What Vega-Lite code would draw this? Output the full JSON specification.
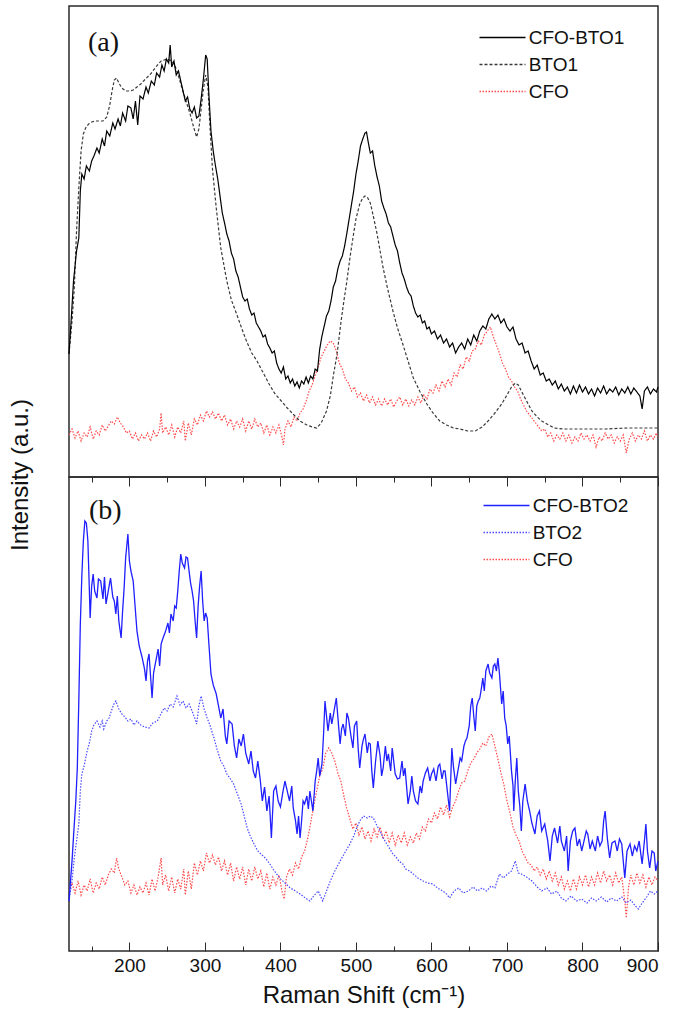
{
"$schema": "https://vega.github.io/schema/vega-lite/v6.json",
"padding": {"left": 8, "top": 5, "right": 2, "bottom": 2},
"spacing": 0,
"bounds": "flush",
"title": {"text": "Intensity (a.u.)", "orient": "left", "anchor": "middle", "frame": "group", "offset": 33, "dx": -469, "font": "Liberation Sans", "fontSize": 24, "fontWeight": "normal", "color": "#111"},
"config": {
 "font": "Liberation Sans",
 "view": {"stroke": "#2a2a2a", "strokeWidth": 1.5},
 "axis": {"grid": false, "domain": false, "tickColor": "#2a2a2a", "tickWidth": 1, "labelColor": "#111", "titleColor": "#111", "labelFontSize": 19, "titleFontSize": 24, "titleFontWeight": "normal"},
 "legend": {"orient": "none", "title": null, "symbolType": "M-3,0H3", "symbolSize": 235, "symbolStrokeWidth": 1.3, "labelFontSize": 19, "labelColor": "#111", "rowPadding": 7, "padding": 0}
},
"resolve": {"scale": {"color": "independent", "strokeDash": "independent", "x": "shared"}, "legend": {"color": "independent", "strokeDash": "independent"}},
"datasets": {
"a": [
{"s":"CFO","x":120,"y":42},{"s":"CFO","x":124,"y":48},{"s":"CFO","x":128,"y":39},{"s":"CFO","x":132,"y":46},{"s":"CFO","x":136,"y":36},{"s":"CFO","x":140,"y":44},{"s":"CFO","x":144,"y":40},{"s":"CFO","x":148,"y":50},{"s":"CFO","x":152,"y":38},{"s":"CFO","x":156,"y":46},{"s":"CFO","x":160,"y":42},{"s":"CFO","x":164,"y":52},{"s":"CFO","x":168,"y":46},{"s":"CFO","x":172,"y":51},{"s":"CFO","x":176,"y":56},{"s":"CFO","x":180,"y":53},{"s":"CFO","x":184,"y":60},{"s":"CFO","x":188,"y":54},{"s":"CFO","x":192,"y":50},{"s":"CFO","x":196,"y":44},{"s":"CFO","x":200,"y":46},{"s":"CFO","x":204,"y":38},{"s":"CFO","x":208,"y":44},{"s":"CFO","x":212,"y":36},{"s":"CFO","x":216,"y":42},{"s":"CFO","x":220,"y":38},{"s":"CFO","x":224,"y":44},{"s":"CFO","x":228,"y":36},{"s":"CFO","x":232,"y":46},{"s":"CFO","x":236,"y":40},{"s":"CFO","x":240,"y":48},{"s":"CFO","x":242,"y":64},{"s":"CFO","x":244,"y":44},{"s":"CFO","x":248,"y":50},{"s":"CFO","x":252,"y":42},{"s":"CFO","x":256,"y":52},{"s":"CFO","x":260,"y":40},{"s":"CFO","x":264,"y":50},{"s":"CFO","x":268,"y":44},{"s":"CFO","x":272,"y":56},{"s":"CFO","x":274,"y":36},{"s":"CFO","x":278,"y":54},{"s":"CFO","x":282,"y":42},{"s":"CFO","x":286,"y":58},{"s":"CFO","x":290,"y":52},{"s":"CFO","x":294,"y":62},{"s":"CFO","x":298,"y":56},{"s":"CFO","x":302,"y":66},{"s":"CFO","x":306,"y":60},{"s":"CFO","x":310,"y":65},{"s":"CFO","x":314,"y":58},{"s":"CFO","x":318,"y":64},{"s":"CFO","x":322,"y":56},{"s":"CFO","x":326,"y":62},{"s":"CFO","x":330,"y":52},{"s":"CFO","x":334,"y":58},{"s":"CFO","x":338,"y":48},{"s":"CFO","x":342,"y":56},{"s":"CFO","x":346,"y":50},{"s":"CFO","x":350,"y":58},{"s":"CFO","x":354,"y":46},{"s":"CFO","x":358,"y":56},{"s":"CFO","x":362,"y":48},{"s":"CFO","x":366,"y":58},{"s":"CFO","x":370,"y":50},{"s":"CFO","x":374,"y":54},{"s":"CFO","x":378,"y":44},{"s":"CFO","x":382,"y":52},{"s":"CFO","x":386,"y":42},{"s":"CFO","x":390,"y":50},{"s":"CFO","x":394,"y":44},{"s":"CFO","x":398,"y":52},{"s":"CFO","x":402,"y":40},{"s":"CFO","x":404,"y":32},{"s":"CFO","x":406,"y":48},{"s":"CFO","x":410,"y":56},{"s":"CFO","x":414,"y":50},{"s":"CFO","x":418,"y":60},{"s":"CFO","x":422,"y":56},{"s":"CFO","x":426,"y":64},{"s":"CFO","x":430,"y":68},{"s":"CFO","x":434,"y":76},{"s":"CFO","x":438,"y":86},{"s":"CFO","x":442,"y":92},{"s":"CFO","x":446,"y":102},{"s":"CFO","x":450,"y":110},{"s":"CFO","x":454,"y":120},{"s":"CFO","x":458,"y":126},{"s":"CFO","x":462,"y":132},{"s":"CFO","x":466,"y":136},{"s":"CFO","x":470,"y":134},{"s":"CFO","x":474,"y":126},{"s":"CFO","x":478,"y":114},{"s":"CFO","x":482,"y":108},{"s":"CFO","x":486,"y":98},{"s":"CFO","x":490,"y":94},{"s":"CFO","x":494,"y":86},{"s":"CFO","x":498,"y":90},{"s":"CFO","x":502,"y":80},{"s":"CFO","x":506,"y":84},{"s":"CFO","x":510,"y":76},{"s":"CFO","x":514,"y":82},{"s":"CFO","x":518,"y":74},{"s":"CFO","x":522,"y":80},{"s":"CFO","x":526,"y":72},{"s":"CFO","x":530,"y":78},{"s":"CFO","x":534,"y":71},{"s":"CFO","x":538,"y":78},{"s":"CFO","x":542,"y":72},{"s":"CFO","x":546,"y":78},{"s":"CFO","x":550,"y":70},{"s":"CFO","x":554,"y":76},{"s":"CFO","x":558,"y":80},{"s":"CFO","x":562,"y":72},{"s":"CFO","x":566,"y":78},{"s":"CFO","x":570,"y":71},{"s":"CFO","x":574,"y":77},{"s":"CFO","x":578,"y":72},{"s":"CFO","x":582,"y":80},{"s":"CFO","x":586,"y":74},{"s":"CFO","x":590,"y":82},{"s":"CFO","x":594,"y":78},{"s":"CFO","x":598,"y":88},{"s":"CFO","x":602,"y":84},{"s":"CFO","x":606,"y":92},{"s":"CFO","x":610,"y":86},{"s":"CFO","x":614,"y":96},{"s":"CFO","x":618,"y":90},{"s":"CFO","x":622,"y":98},{"s":"CFO","x":626,"y":92},{"s":"CFO","x":630,"y":104},{"s":"CFO","x":634,"y":100},{"s":"CFO","x":638,"y":112},{"s":"CFO","x":642,"y":108},{"s":"CFO","x":646,"y":120},{"s":"CFO","x":650,"y":116},{"s":"CFO","x":654,"y":126},{"s":"CFO","x":658,"y":128},{"s":"CFO","x":662,"y":136},{"s":"CFO","x":666,"y":132},{"s":"CFO","x":670,"y":142},{"s":"CFO","x":674,"y":146},{"s":"CFO","x":678,"y":150},{"s":"CFO","x":682,"y":140},{"s":"CFO","x":686,"y":132},{"s":"CFO","x":690,"y":124},{"s":"CFO","x":694,"y":114},{"s":"CFO","x":698,"y":108},{"s":"CFO","x":702,"y":100},{"s":"CFO","x":706,"y":96},{"s":"CFO","x":710,"y":90},{"s":"CFO","x":714,"y":86},{"s":"CFO","x":718,"y":78},{"s":"CFO","x":722,"y":72},{"s":"CFO","x":726,"y":66},{"s":"CFO","x":730,"y":62},{"s":"CFO","x":734,"y":58},{"s":"CFO","x":738,"y":54},{"s":"CFO","x":742,"y":50},{"s":"CFO","x":746,"y":46},{"s":"CFO","x":750,"y":48},{"s":"CFO","x":754,"y":40},{"s":"CFO","x":758,"y":44},{"s":"CFO","x":762,"y":36},{"s":"CFO","x":766,"y":42},{"s":"CFO","x":770,"y":38},{"s":"CFO","x":774,"y":44},{"s":"CFO","x":778,"y":36},{"s":"CFO","x":782,"y":42},{"s":"CFO","x":786,"y":34},{"s":"CFO","x":790,"y":40},{"s":"CFO","x":794,"y":36},{"s":"CFO","x":798,"y":44},{"s":"CFO","x":802,"y":38},{"s":"CFO","x":806,"y":42},{"s":"CFO","x":810,"y":36},{"s":"CFO","x":814,"y":42},{"s":"CFO","x":818,"y":30},{"s":"CFO","x":822,"y":40},{"s":"CFO","x":826,"y":36},{"s":"CFO","x":830,"y":44},{"s":"CFO","x":834,"y":38},{"s":"CFO","x":838,"y":42},{"s":"CFO","x":842,"y":34},{"s":"CFO","x":846,"y":40},{"s":"CFO","x":850,"y":36},{"s":"CFO","x":854,"y":42},{"s":"CFO","x":858,"y":24},{"s":"CFO","x":862,"y":38},{"s":"CFO","x":866,"y":44},{"s":"CFO","x":870,"y":36},{"s":"CFO","x":874,"y":42},{"s":"CFO","x":878,"y":38},{"s":"CFO","x":882,"y":46},{"s":"CFO","x":886,"y":36},{"s":"CFO","x":890,"y":42},{"s":"CFO","x":894,"y":38},{"s":"CFO","x":898,"y":44},{"s":"CFO","x":900,"y":40},
{"s":"BTO1","x":120,"y":123},{"s":"BTO1","x":124,"y":156},{"s":"BTO1","x":127,"y":189},{"s":"BTO1","x":130,"y":246},{"s":"BTO1","x":133,"y":289},{"s":"BTO1","x":136,"y":326},{"s":"BTO1","x":139,"y":343},{"s":"BTO1","x":142,"y":349},{"s":"BTO1","x":146,"y":353},{"s":"BTO1","x":150,"y":355},{"s":"BTO1","x":155,"y":356},{"s":"BTO1","x":160,"y":356},{"s":"BTO1","x":165,"y":356},{"s":"BTO1","x":170,"y":360},{"s":"BTO1","x":174,"y":372},{"s":"BTO1","x":177,"y":386},{"s":"BTO1","x":180,"y":397},{"s":"BTO1","x":183,"y":399},{"s":"BTO1","x":186,"y":394},{"s":"BTO1","x":190,"y":389},{"s":"BTO1","x":195,"y":386},{"s":"BTO1","x":200,"y":386},{"s":"BTO1","x":205,"y":387},{"s":"BTO1","x":210,"y":390},{"s":"BTO1","x":215,"y":393},{"s":"BTO1","x":220,"y":397},{"s":"BTO1","x":228,"y":403},{"s":"BTO1","x":235,"y":410},{"s":"BTO1","x":242,"y":416},{"s":"BTO1","x":250,"y":418},{"s":"BTO1","x":256,"y":416},{"s":"BTO1","x":260,"y":412},{"s":"BTO1","x":265,"y":401},{"s":"BTO1","x":270,"y":388},{"s":"BTO1","x":275,"y":376},{"s":"BTO1","x":280,"y":364},{"s":"BTO1","x":285,"y":350},{"s":"BTO1","x":289,"y":340},{"s":"BTO1","x":292,"y":348},{"s":"BTO1","x":295,"y":368},{"s":"BTO1","x":298,"y":388},{"s":"BTO1","x":301,"y":402},{"s":"BTO1","x":304,"y":390},{"s":"BTO1","x":307,"y":346},{"s":"BTO1","x":310,"y":308},{"s":"BTO1","x":315,"y":269},{"s":"BTO1","x":321,"y":229},{"s":"BTO1","x":329,"y":196},{"s":"BTO1","x":335,"y":177},{"s":"BTO1","x":342,"y":163},{"s":"BTO1","x":350,"y":146},{"s":"BTO1","x":355,"y":136},{"s":"BTO1","x":362,"y":124},{"s":"BTO1","x":369,"y":116},{"s":"BTO1","x":378,"y":103},{"s":"BTO1","x":385,"y":93},{"s":"BTO1","x":392,"y":84},{"s":"BTO1","x":400,"y":77},{"s":"BTO1","x":409,"y":69},{"s":"BTO1","x":418,"y":62},{"s":"BTO1","x":426,"y":56},{"s":"BTO1","x":435,"y":52},{"s":"BTO1","x":442,"y":50},{"s":"BTO1","x":448,"y":49},{"s":"BTO1","x":454,"y":54},{"s":"BTO1","x":461,"y":66},{"s":"BTO1","x":466,"y":81},{"s":"BTO1","x":470,"y":101},{"s":"BTO1","x":475,"y":123},{"s":"BTO1","x":480,"y":154},{"s":"BTO1","x":484,"y":176},{"s":"BTO1","x":488,"y":196},{"s":"BTO1","x":492,"y":219},{"s":"BTO1","x":496,"y":239},{"s":"BTO1","x":500,"y":258},{"s":"BTO1","x":505,"y":273},{"s":"BTO1","x":509,"y":279},{"s":"BTO1","x":512,"y":281},{"s":"BTO1","x":515,"y":280},{"s":"BTO1","x":519,"y":274},{"s":"BTO1","x":523,"y":261},{"s":"BTO1","x":528,"y":243},{"s":"BTO1","x":532,"y":226},{"s":"BTO1","x":536,"y":209},{"s":"BTO1","x":542,"y":188},{"s":"BTO1","x":549,"y":166},{"s":"BTO1","x":555,"y":149},{"s":"BTO1","x":562,"y":133},{"s":"BTO1","x":569,"y":116},{"s":"BTO1","x":576,"y":99},{"s":"BTO1","x":585,"y":85},{"s":"BTO1","x":594,"y":73},{"s":"BTO1","x":602,"y":64},{"s":"BTO1","x":611,"y":56},{"s":"BTO1","x":620,"y":52},{"s":"BTO1","x":629,"y":49},{"s":"BTO1","x":638,"y":48},{"s":"BTO1","x":648,"y":46},{"s":"BTO1","x":658,"y":46},{"s":"BTO1","x":667,"y":50},{"s":"BTO1","x":675,"y":56},{"s":"BTO1","x":684,"y":64},{"s":"BTO1","x":693,"y":73},{"s":"BTO1","x":700,"y":82},{"s":"BTO1","x":706,"y":90},{"s":"BTO1","x":711,"y":94},{"s":"BTO1","x":715,"y":92},{"s":"BTO1","x":719,"y":86},{"s":"BTO1","x":726,"y":76},{"s":"BTO1","x":733,"y":66},{"s":"BTO1","x":740,"y":60},{"s":"BTO1","x":746,"y":56},{"s":"BTO1","x":755,"y":52},{"s":"BTO1","x":763,"y":49},{"s":"BTO1","x":775,"y":48},{"s":"BTO1","x":786,"y":48},{"s":"BTO1","x":800,"y":48},{"s":"BTO1","x":830,"y":48},{"s":"BTO1","x":860,"y":49},{"s":"BTO1","x":880,"y":49},{"s":"BTO1","x":900,"y":49},
{"s":"CFO-BTO1","x":120,"y":123},{"s":"CFO-BTO1","x":122,"y":146},{"s":"CFO-BTO1","x":126,"y":196},{"s":"CFO-BTO1","x":130,"y":226},{"s":"CFO-BTO1","x":133,"y":239},{"s":"CFO-BTO1","x":135,"y":286},{"s":"CFO-BTO1","x":137,"y":303},{"s":"CFO-BTO1","x":140,"y":298},{"s":"CFO-BTO1","x":143,"y":311},{"s":"CFO-BTO1","x":147,"y":306},{"s":"CFO-BTO1","x":150,"y":316},{"s":"CFO-BTO1","x":153,"y":321},{"s":"CFO-BTO1","x":157,"y":329},{"s":"CFO-BTO1","x":160,"y":324},{"s":"CFO-BTO1","x":164,"y":338},{"s":"CFO-BTO1","x":167,"y":331},{"s":"CFO-BTO1","x":170,"y":346},{"s":"CFO-BTO1","x":174,"y":341},{"s":"CFO-BTO1","x":178,"y":354},{"s":"CFO-BTO1","x":181,"y":348},{"s":"CFO-BTO1","x":185,"y":358},{"s":"CFO-BTO1","x":188,"y":351},{"s":"CFO-BTO1","x":191,"y":364},{"s":"CFO-BTO1","x":195,"y":356},{"s":"CFO-BTO1","x":198,"y":371},{"s":"CFO-BTO1","x":202,"y":369},{"s":"CFO-BTO1","x":205,"y":358},{"s":"CFO-BTO1","x":208,"y":376},{"s":"CFO-BTO1","x":211,"y":352},{"s":"CFO-BTO1","x":214,"y":381},{"s":"CFO-BTO1","x":218,"y":378},{"s":"CFO-BTO1","x":222,"y":390},{"s":"CFO-BTO1","x":225,"y":384},{"s":"CFO-BTO1","x":229,"y":396},{"s":"CFO-BTO1","x":233,"y":392},{"s":"CFO-BTO1","x":236,"y":404},{"s":"CFO-BTO1","x":240,"y":400},{"s":"CFO-BTO1","x":243,"y":412},{"s":"CFO-BTO1","x":246,"y":406},{"s":"CFO-BTO1","x":249,"y":418},{"s":"CFO-BTO1","x":252,"y":414},{"s":"CFO-BTO1","x":254,"y":432},{"s":"CFO-BTO1","x":256,"y":410},{"s":"CFO-BTO1","x":259,"y":416},{"s":"CFO-BTO1","x":262,"y":402},{"s":"CFO-BTO1","x":265,"y":406},{"s":"CFO-BTO1","x":268,"y":396},{"s":"CFO-BTO1","x":271,"y":386},{"s":"CFO-BTO1","x":274,"y":376},{"s":"CFO-BTO1","x":277,"y":380},{"s":"CFO-BTO1","x":280,"y":368},{"s":"CFO-BTO1","x":283,"y":364},{"s":"CFO-BTO1","x":286,"y":370},{"s":"CFO-BTO1","x":289,"y":359},{"s":"CFO-BTO1","x":292,"y":361},{"s":"CFO-BTO1","x":295,"y":378},{"s":"CFO-BTO1","x":298,"y":398},{"s":"CFO-BTO1","x":301,"y":422},{"s":"CFO-BTO1","x":303,"y":418},{"s":"CFO-BTO1","x":305,"y":386},{"s":"CFO-BTO1","x":308,"y":346},{"s":"CFO-BTO1","x":311,"y":326},{"s":"CFO-BTO1","x":314,"y":311},{"s":"CFO-BTO1","x":317,"y":298},{"s":"CFO-BTO1","x":320,"y":281},{"s":"CFO-BTO1","x":323,"y":264},{"s":"CFO-BTO1","x":326,"y":254},{"s":"CFO-BTO1","x":329,"y":243},{"s":"CFO-BTO1","x":332,"y":236},{"s":"CFO-BTO1","x":335,"y":224},{"s":"CFO-BTO1","x":338,"y":218},{"s":"CFO-BTO1","x":341,"y":206},{"s":"CFO-BTO1","x":344,"y":200},{"s":"CFO-BTO1","x":347,"y":190},{"s":"CFO-BTO1","x":350,"y":180},{"s":"CFO-BTO1","x":353,"y":176},{"s":"CFO-BTO1","x":356,"y":178},{"s":"CFO-BTO1","x":359,"y":168},{"s":"CFO-BTO1","x":362,"y":162},{"s":"CFO-BTO1","x":365,"y":164},{"s":"CFO-BTO1","x":368,"y":154},{"s":"CFO-BTO1","x":371,"y":150},{"s":"CFO-BTO1","x":374,"y":146},{"s":"CFO-BTO1","x":377,"y":140},{"s":"CFO-BTO1","x":380,"y":142},{"s":"CFO-BTO1","x":383,"y":133},{"s":"CFO-BTO1","x":386,"y":129},{"s":"CFO-BTO1","x":389,"y":124},{"s":"CFO-BTO1","x":392,"y":126},{"s":"CFO-BTO1","x":395,"y":114},{"s":"CFO-BTO1","x":398,"y":108},{"s":"CFO-BTO1","x":401,"y":104},{"s":"CFO-BTO1","x":404,"y":110},{"s":"CFO-BTO1","x":407,"y":98},{"s":"CFO-BTO1","x":410,"y":101},{"s":"CFO-BTO1","x":413,"y":94},{"s":"CFO-BTO1","x":416,"y":98},{"s":"CFO-BTO1","x":419,"y":91},{"s":"CFO-BTO1","x":422,"y":95},{"s":"CFO-BTO1","x":425,"y":89},{"s":"CFO-BTO1","x":428,"y":96},{"s":"CFO-BTO1","x":431,"y":93},{"s":"CFO-BTO1","x":434,"y":100},{"s":"CFO-BTO1","x":437,"y":94},{"s":"CFO-BTO1","x":440,"y":101},{"s":"CFO-BTO1","x":443,"y":98},{"s":"CFO-BTO1","x":446,"y":108},{"s":"CFO-BTO1","x":449,"y":106},{"s":"CFO-BTO1","x":452,"y":128},{"s":"CFO-BTO1","x":455,"y":141},{"s":"CFO-BTO1","x":458,"y":151},{"s":"CFO-BTO1","x":461,"y":161},{"s":"CFO-BTO1","x":464,"y":166},{"s":"CFO-BTO1","x":467,"y":176},{"s":"CFO-BTO1","x":470,"y":190},{"s":"CFO-BTO1","x":473,"y":196},{"s":"CFO-BTO1","x":476,"y":208},{"s":"CFO-BTO1","x":479,"y":216},{"s":"CFO-BTO1","x":482,"y":221},{"s":"CFO-BTO1","x":485,"y":231},{"s":"CFO-BTO1","x":488,"y":244},{"s":"CFO-BTO1","x":491,"y":258},{"s":"CFO-BTO1","x":494,"y":272},{"s":"CFO-BTO1","x":497,"y":286},{"s":"CFO-BTO1","x":500,"y":303},{"s":"CFO-BTO1","x":503,"y":316},{"s":"CFO-BTO1","x":506,"y":331},{"s":"CFO-BTO1","x":509,"y":338},{"s":"CFO-BTO1","x":512,"y":344},{"s":"CFO-BTO1","x":514,"y":345},{"s":"CFO-BTO1","x":516,"y":336},{"s":"CFO-BTO1","x":519,"y":324},{"s":"CFO-BTO1","x":522,"y":326},{"s":"CFO-BTO1","x":525,"y":311},{"s":"CFO-BTO1","x":528,"y":300},{"s":"CFO-BTO1","x":531,"y":291},{"s":"CFO-BTO1","x":534,"y":276},{"s":"CFO-BTO1","x":537,"y":269},{"s":"CFO-BTO1","x":540,"y":263},{"s":"CFO-BTO1","x":543,"y":254},{"s":"CFO-BTO1","x":546,"y":250},{"s":"CFO-BTO1","x":549,"y":241},{"s":"CFO-BTO1","x":552,"y":232},{"s":"CFO-BTO1","x":555,"y":226},{"s":"CFO-BTO1","x":558,"y":214},{"s":"CFO-BTO1","x":561,"y":204},{"s":"CFO-BTO1","x":564,"y":198},{"s":"CFO-BTO1","x":567,"y":190},{"s":"CFO-BTO1","x":570,"y":184},{"s":"CFO-BTO1","x":573,"y":181},{"s":"CFO-BTO1","x":576,"y":171},{"s":"CFO-BTO1","x":579,"y":164},{"s":"CFO-BTO1","x":582,"y":160},{"s":"CFO-BTO1","x":585,"y":162},{"s":"CFO-BTO1","x":588,"y":154},{"s":"CFO-BTO1","x":591,"y":156},{"s":"CFO-BTO1","x":594,"y":148},{"s":"CFO-BTO1","x":597,"y":150},{"s":"CFO-BTO1","x":600,"y":143},{"s":"CFO-BTO1","x":604,"y":146},{"s":"CFO-BTO1","x":608,"y":138},{"s":"CFO-BTO1","x":612,"y":142},{"s":"CFO-BTO1","x":616,"y":134},{"s":"CFO-BTO1","x":620,"y":138},{"s":"CFO-BTO1","x":624,"y":130},{"s":"CFO-BTO1","x":628,"y":134},{"s":"CFO-BTO1","x":632,"y":124},{"s":"CFO-BTO1","x":636,"y":130},{"s":"CFO-BTO1","x":640,"y":134},{"s":"CFO-BTO1","x":644,"y":128},{"s":"CFO-BTO1","x":648,"y":138},{"s":"CFO-BTO1","x":652,"y":132},{"s":"CFO-BTO1","x":656,"y":142},{"s":"CFO-BTO1","x":660,"y":136},{"s":"CFO-BTO1","x":664,"y":146},{"s":"CFO-BTO1","x":668,"y":151},{"s":"CFO-BTO1","x":672,"y":148},{"s":"CFO-BTO1","x":676,"y":158},{"s":"CFO-BTO1","x":680,"y":163},{"s":"CFO-BTO1","x":684,"y":158},{"s":"CFO-BTO1","x":688,"y":162},{"s":"CFO-BTO1","x":692,"y":154},{"s":"CFO-BTO1","x":696,"y":158},{"s":"CFO-BTO1","x":700,"y":150},{"s":"CFO-BTO1","x":704,"y":146},{"s":"CFO-BTO1","x":708,"y":150},{"s":"CFO-BTO1","x":712,"y":138},{"s":"CFO-BTO1","x":716,"y":132},{"s":"CFO-BTO1","x":720,"y":134},{"s":"CFO-BTO1","x":724,"y":124},{"s":"CFO-BTO1","x":728,"y":126},{"s":"CFO-BTO1","x":732,"y":116},{"s":"CFO-BTO1","x":736,"y":108},{"s":"CFO-BTO1","x":740,"y":112},{"s":"CFO-BTO1","x":744,"y":102},{"s":"CFO-BTO1","x":748,"y":104},{"s":"CFO-BTO1","x":752,"y":96},{"s":"CFO-BTO1","x":756,"y":98},{"s":"CFO-BTO1","x":760,"y":92},{"s":"CFO-BTO1","x":764,"y":96},{"s":"CFO-BTO1","x":768,"y":88},{"s":"CFO-BTO1","x":772,"y":93},{"s":"CFO-BTO1","x":776,"y":86},{"s":"CFO-BTO1","x":780,"y":90},{"s":"CFO-BTO1","x":784,"y":83},{"s":"CFO-BTO1","x":788,"y":91},{"s":"CFO-BTO1","x":792,"y":84},{"s":"CFO-BTO1","x":796,"y":92},{"s":"CFO-BTO1","x":800,"y":85},{"s":"CFO-BTO1","x":804,"y":90},{"s":"CFO-BTO1","x":808,"y":83},{"s":"CFO-BTO1","x":812,"y":88},{"s":"CFO-BTO1","x":816,"y":81},{"s":"CFO-BTO1","x":820,"y":89},{"s":"CFO-BTO1","x":824,"y":84},{"s":"CFO-BTO1","x":828,"y":91},{"s":"CFO-BTO1","x":832,"y":83},{"s":"CFO-BTO1","x":836,"y":88},{"s":"CFO-BTO1","x":840,"y":85},{"s":"CFO-BTO1","x":844,"y":90},{"s":"CFO-BTO1","x":848,"y":82},{"s":"CFO-BTO1","x":852,"y":88},{"s":"CFO-BTO1","x":856,"y":84},{"s":"CFO-BTO1","x":860,"y":90},{"s":"CFO-BTO1","x":864,"y":83},{"s":"CFO-BTO1","x":868,"y":89},{"s":"CFO-BTO1","x":872,"y":85},{"s":"CFO-BTO1","x":876,"y":81},{"s":"CFO-BTO1","x":879,"y":68},{"s":"CFO-BTO1","x":882,"y":86},{"s":"CFO-BTO1","x":886,"y":90},{"s":"CFO-BTO1","x":890,"y":83},{"s":"CFO-BTO1","x":894,"y":88},{"s":"CFO-BTO1","x":898,"y":85},{"s":"CFO-BTO1","x":900,"y":90}
],
"b": [
{"s":"CFO","x":120,"y":60},{"s":"CFO","x":124,"y":68},{"s":"CFO","x":128,"y":58},{"s":"CFO","x":132,"y":70},{"s":"CFO","x":136,"y":56},{"s":"CFO","x":140,"y":66},{"s":"CFO","x":144,"y":60},{"s":"CFO","x":148,"y":72},{"s":"CFO","x":152,"y":58},{"s":"CFO","x":156,"y":68},{"s":"CFO","x":160,"y":62},{"s":"CFO","x":164,"y":74},{"s":"CFO","x":168,"y":66},{"s":"CFO","x":172,"y":76},{"s":"CFO","x":176,"y":82},{"s":"CFO","x":180,"y":78},{"s":"CFO","x":183,"y":93},{"s":"CFO","x":186,"y":82},{"s":"CFO","x":190,"y":74},{"s":"CFO","x":194,"y":66},{"s":"CFO","x":198,"y":70},{"s":"CFO","x":202,"y":58},{"s":"CFO","x":206,"y":66},{"s":"CFO","x":210,"y":56},{"s":"CFO","x":214,"y":64},{"s":"CFO","x":218,"y":58},{"s":"CFO","x":222,"y":68},{"s":"CFO","x":226,"y":56},{"s":"CFO","x":230,"y":72},{"s":"CFO","x":234,"y":60},{"s":"CFO","x":238,"y":74},{"s":"CFO","x":242,"y":93},{"s":"CFO","x":244,"y":66},{"s":"CFO","x":248,"y":76},{"s":"CFO","x":252,"y":60},{"s":"CFO","x":256,"y":74},{"s":"CFO","x":260,"y":58},{"s":"CFO","x":264,"y":72},{"s":"CFO","x":268,"y":62},{"s":"CFO","x":272,"y":82},{"s":"CFO","x":274,"y":56},{"s":"CFO","x":278,"y":80},{"s":"CFO","x":282,"y":62},{"s":"CFO","x":286,"y":88},{"s":"CFO","x":290,"y":76},{"s":"CFO","x":294,"y":90},{"s":"CFO","x":298,"y":80},{"s":"CFO","x":302,"y":98},{"s":"CFO","x":306,"y":88},{"s":"CFO","x":310,"y":96},{"s":"CFO","x":314,"y":86},{"s":"CFO","x":318,"y":94},{"s":"CFO","x":322,"y":80},{"s":"CFO","x":326,"y":90},{"s":"CFO","x":330,"y":76},{"s":"CFO","x":334,"y":88},{"s":"CFO","x":338,"y":70},{"s":"CFO","x":342,"y":84},{"s":"CFO","x":346,"y":72},{"s":"CFO","x":350,"y":84},{"s":"CFO","x":354,"y":66},{"s":"CFO","x":358,"y":82},{"s":"CFO","x":362,"y":70},{"s":"CFO","x":366,"y":84},{"s":"CFO","x":370,"y":72},{"s":"CFO","x":374,"y":80},{"s":"CFO","x":378,"y":64},{"s":"CFO","x":382,"y":78},{"s":"CFO","x":386,"y":62},{"s":"CFO","x":390,"y":74},{"s":"CFO","x":394,"y":66},{"s":"CFO","x":398,"y":76},{"s":"CFO","x":402,"y":60},{"s":"CFO","x":405,"y":52},{"s":"CFO","x":408,"y":74},{"s":"CFO","x":412,"y":82},{"s":"CFO","x":416,"y":76},{"s":"CFO","x":420,"y":88},{"s":"CFO","x":424,"y":82},{"s":"CFO","x":428,"y":94},{"s":"CFO","x":432,"y":100},{"s":"CFO","x":436,"y":112},{"s":"CFO","x":440,"y":128},{"s":"CFO","x":444,"y":145},{"s":"CFO","x":448,"y":160},{"s":"CFO","x":452,"y":175},{"s":"CFO","x":456,"y":182},{"s":"CFO","x":460,"y":198},{"s":"CFO","x":464,"y":203},{"s":"CFO","x":468,"y":198},{"s":"CFO","x":472,"y":190},{"s":"CFO","x":476,"y":178},{"s":"CFO","x":480,"y":170},{"s":"CFO","x":484,"y":155},{"s":"CFO","x":488,"y":142},{"s":"CFO","x":492,"y":132},{"s":"CFO","x":496,"y":122},{"s":"CFO","x":500,"y":128},{"s":"CFO","x":504,"y":116},{"s":"CFO","x":508,"y":124},{"s":"CFO","x":512,"y":112},{"s":"CFO","x":516,"y":120},{"s":"CFO","x":520,"y":110},{"s":"CFO","x":524,"y":122},{"s":"CFO","x":528,"y":114},{"s":"CFO","x":532,"y":124},{"s":"CFO","x":536,"y":112},{"s":"CFO","x":540,"y":120},{"s":"CFO","x":544,"y":108},{"s":"CFO","x":548,"y":118},{"s":"CFO","x":552,"y":106},{"s":"CFO","x":556,"y":116},{"s":"CFO","x":560,"y":108},{"s":"CFO","x":564,"y":118},{"s":"CFO","x":568,"y":106},{"s":"CFO","x":572,"y":114},{"s":"CFO","x":576,"y":108},{"s":"CFO","x":580,"y":118},{"s":"CFO","x":584,"y":112},{"s":"CFO","x":588,"y":124},{"s":"CFO","x":592,"y":120},{"s":"CFO","x":596,"y":132},{"s":"CFO","x":600,"y":128},{"s":"CFO","x":604,"y":138},{"s":"CFO","x":608,"y":132},{"s":"CFO","x":612,"y":144},{"s":"CFO","x":616,"y":136},{"s":"CFO","x":620,"y":146},{"s":"CFO","x":624,"y":134},{"s":"CFO","x":628,"y":144},{"s":"CFO","x":632,"y":150},{"s":"CFO","x":636,"y":160},{"s":"CFO","x":640,"y":168},{"s":"CFO","x":644,"y":170},{"s":"CFO","x":648,"y":180},{"s":"CFO","x":652,"y":188},{"s":"CFO","x":656,"y":192},{"s":"CFO","x":660,"y":198},{"s":"CFO","x":664,"y":202},{"s":"CFO","x":668,"y":208},{"s":"CFO","x":672,"y":205},{"s":"CFO","x":676,"y":214},{"s":"CFO","x":680,"y":217},{"s":"CFO","x":684,"y":205},{"s":"CFO","x":688,"y":192},{"s":"CFO","x":692,"y":178},{"s":"CFO","x":696,"y":166},{"s":"CFO","x":700,"y":150},{"s":"CFO","x":704,"y":138},{"s":"CFO","x":708,"y":124},{"s":"CFO","x":712,"y":116},{"s":"CFO","x":716,"y":110},{"s":"CFO","x":720,"y":100},{"s":"CFO","x":724,"y":94},{"s":"CFO","x":728,"y":88},{"s":"CFO","x":732,"y":86},{"s":"CFO","x":736,"y":80},{"s":"CFO","x":740,"y":84},{"s":"CFO","x":744,"y":76},{"s":"CFO","x":748,"y":82},{"s":"CFO","x":752,"y":72},{"s":"CFO","x":756,"y":80},{"s":"CFO","x":760,"y":70},{"s":"CFO","x":764,"y":78},{"s":"CFO","x":768,"y":66},{"s":"CFO","x":772,"y":74},{"s":"CFO","x":776,"y":62},{"s":"CFO","x":780,"y":70},{"s":"CFO","x":784,"y":60},{"s":"CFO","x":788,"y":72},{"s":"CFO","x":792,"y":62},{"s":"CFO","x":796,"y":74},{"s":"CFO","x":800,"y":66},{"s":"CFO","x":804,"y":76},{"s":"CFO","x":808,"y":64},{"s":"CFO","x":812,"y":74},{"s":"CFO","x":816,"y":66},{"s":"CFO","x":820,"y":78},{"s":"CFO","x":824,"y":68},{"s":"CFO","x":828,"y":80},{"s":"CFO","x":832,"y":70},{"s":"CFO","x":836,"y":76},{"s":"CFO","x":840,"y":66},{"s":"CFO","x":844,"y":78},{"s":"CFO","x":848,"y":68},{"s":"CFO","x":852,"y":74},{"s":"CFO","x":856,"y":50},{"s":"CFO","x":858,"y":33},{"s":"CFO","x":861,"y":64},{"s":"CFO","x":864,"y":76},{"s":"CFO","x":868,"y":66},{"s":"CFO","x":872,"y":78},{"s":"CFO","x":876,"y":68},{"s":"CFO","x":880,"y":76},{"s":"CFO","x":884,"y":64},{"s":"CFO","x":888,"y":74},{"s":"CFO","x":892,"y":66},{"s":"CFO","x":896,"y":74},{"s":"CFO","x":900,"y":70},
{"s":"BTO2","x":120,"y":50},{"s":"BTO2","x":124,"y":70},{"s":"BTO2","x":127,"y":93},{"s":"BTO2","x":130,"y":110},{"s":"BTO2","x":133,"y":127},{"s":"BTO2","x":135,"y":160},{"s":"BTO2","x":137,"y":177},{"s":"BTO2","x":140,"y":185},{"s":"BTO2","x":144,"y":200},{"s":"BTO2","x":147,"y":208},{"s":"BTO2","x":150,"y":220},{"s":"BTO2","x":153,"y":226},{"s":"BTO2","x":157,"y":230},{"s":"BTO2","x":161,"y":224},{"s":"BTO2","x":164,"y":230},{"s":"BTO2","x":166,"y":222},{"s":"BTO2","x":170,"y":230},{"s":"BTO2","x":173,"y":233},{"s":"BTO2","x":177,"y":242},{"s":"BTO2","x":180,"y":248},{"s":"BTO2","x":182,"y":250},{"s":"BTO2","x":186,"y":242},{"s":"BTO2","x":190,"y":237},{"s":"BTO2","x":194,"y":234},{"s":"BTO2","x":198,"y":230},{"s":"BTO2","x":202,"y":232},{"s":"BTO2","x":206,"y":226},{"s":"BTO2","x":210,"y":230},{"s":"BTO2","x":215,"y":226},{"s":"BTO2","x":220,"y":224},{"s":"BTO2","x":226,"y":223},{"s":"BTO2","x":231,"y":228},{"s":"BTO2","x":237,"y":230},{"s":"BTO2","x":241,"y":236},{"s":"BTO2","x":246,"y":243},{"s":"BTO2","x":250,"y":240},{"s":"BTO2","x":254,"y":247},{"s":"BTO2","x":258,"y":244},{"s":"BTO2","x":263,"y":255},{"s":"BTO2","x":267,"y":246},{"s":"BTO2","x":271,"y":250},{"s":"BTO2","x":275,"y":243},{"s":"BTO2","x":279,"y":247},{"s":"BTO2","x":283,"y":240},{"s":"BTO2","x":287,"y":232},{"s":"BTO2","x":289,"y":227},{"s":"BTO2","x":292,"y":245},{"s":"BTO2","x":295,"y":255},{"s":"BTO2","x":299,"y":242},{"s":"BTO2","x":303,"y":233},{"s":"BTO2","x":307,"y":225},{"s":"BTO2","x":312,"y":213},{"s":"BTO2","x":316,"y":202},{"s":"BTO2","x":321,"y":190},{"s":"BTO2","x":325,"y":185},{"s":"BTO2","x":329,"y":177},{"s":"BTO2","x":333,"y":173},{"s":"BTO2","x":338,"y":167},{"s":"BTO2","x":343,"y":157},{"s":"BTO2","x":348,"y":147},{"s":"BTO2","x":352,"y":135},{"s":"BTO2","x":356,"y":123},{"s":"BTO2","x":360,"y":115},{"s":"BTO2","x":365,"y":107},{"s":"BTO2","x":370,"y":100},{"s":"BTO2","x":374,"y":97},{"s":"BTO2","x":380,"y":93},{"s":"BTO2","x":386,"y":87},{"s":"BTO2","x":392,"y":80},{"s":"BTO2","x":399,"y":73},{"s":"BTO2","x":406,"y":68},{"s":"BTO2","x":413,"y":63},{"s":"BTO2","x":420,"y":60},{"s":"BTO2","x":426,"y":57},{"s":"BTO2","x":433,"y":53},{"s":"BTO2","x":439,"y":50},{"s":"BTO2","x":444,"y":55},{"s":"BTO2","x":450,"y":60},{"s":"BTO2","x":456,"y":50},{"s":"BTO2","x":461,"y":60},{"s":"BTO2","x":466,"y":70},{"s":"BTO2","x":472,"y":80},{"s":"BTO2","x":479,"y":90},{"s":"BTO2","x":485,"y":98},{"s":"BTO2","x":492,"y":107},{"s":"BTO2","x":497,"y":115},{"s":"BTO2","x":501,"y":123},{"s":"BTO2","x":505,"y":130},{"s":"BTO2","x":510,"y":135},{"s":"BTO2","x":515,"y":133},{"s":"BTO2","x":519,"y":135},{"s":"BTO2","x":523,"y":133},{"s":"BTO2","x":528,"y":125},{"s":"BTO2","x":532,"y":120},{"s":"BTO2","x":536,"y":113},{"s":"BTO2","x":541,"y":107},{"s":"BTO2","x":545,"y":102},{"s":"BTO2","x":549,"y":97},{"s":"BTO2","x":553,"y":94},{"s":"BTO2","x":557,"y":90},{"s":"BTO2","x":562,"y":87},{"s":"BTO2","x":566,"y":82},{"s":"BTO2","x":571,"y":80},{"s":"BTO2","x":576,"y":77},{"s":"BTO2","x":582,"y":73},{"s":"BTO2","x":589,"y":70},{"s":"BTO2","x":595,"y":68},{"s":"BTO2","x":602,"y":67},{"s":"BTO2","x":608,"y":63},{"s":"BTO2","x":615,"y":60},{"s":"BTO2","x":620,"y":57},{"s":"BTO2","x":624,"y":53},{"s":"BTO2","x":630,"y":60},{"s":"BTO2","x":636,"y":63},{"s":"BTO2","x":642,"y":58},{"s":"BTO2","x":649,"y":60},{"s":"BTO2","x":655,"y":64},{"s":"BTO2","x":661,"y":60},{"s":"BTO2","x":667,"y":63},{"s":"BTO2","x":673,"y":60},{"s":"BTO2","x":679,"y":65},{"s":"BTO2","x":684,"y":63},{"s":"BTO2","x":690,"y":77},{"s":"BTO2","x":695,"y":73},{"s":"BTO2","x":701,"y":77},{"s":"BTO2","x":706,"y":80},{"s":"BTO2","x":711,"y":90},{"s":"BTO2","x":715,"y":78},{"s":"BTO2","x":719,"y":77},{"s":"BTO2","x":726,"y":74},{"s":"BTO2","x":733,"y":70},{"s":"BTO2","x":740,"y":64},{"s":"BTO2","x":746,"y":60},{"s":"BTO2","x":753,"y":63},{"s":"BTO2","x":759,"y":57},{"s":"BTO2","x":766,"y":60},{"s":"BTO2","x":772,"y":53},{"s":"BTO2","x":778,"y":50},{"s":"BTO2","x":785,"y":55},{"s":"BTO2","x":792,"y":50},{"s":"BTO2","x":799,"y":52},{"s":"BTO2","x":806,"y":48},{"s":"BTO2","x":812,"y":53},{"s":"BTO2","x":818,"y":50},{"s":"BTO2","x":825,"y":54},{"s":"BTO2","x":832,"y":49},{"s":"BTO2","x":838,"y":53},{"s":"BTO2","x":845,"y":50},{"s":"BTO2","x":852,"y":54},{"s":"BTO2","x":858,"y":48},{"s":"BTO2","x":864,"y":51},{"s":"BTO2","x":870,"y":45},{"s":"BTO2","x":874,"y":42},{"s":"BTO2","x":879,"y":48},{"s":"BTO2","x":885,"y":54},{"s":"BTO2","x":890,"y":60},{"s":"BTO2","x":895,"y":57},{"s":"BTO2","x":900,"y":60},
{"s":"CFO-BTO2","x":120,"y":50},{"s":"CFO-BTO2","x":124,"y":90},{"s":"CFO-BTO2","x":127,"y":127},{"s":"CFO-BTO2","x":129,"y":150},{"s":"CFO-BTO2","x":131,"y":183},{"s":"CFO-BTO2","x":133,"y":250},{"s":"CFO-BTO2","x":135,"y":327},{"s":"CFO-BTO2","x":137,"y":375},{"s":"CFO-BTO2","x":139,"y":410},{"s":"CFO-BTO2","x":141,"y":430},{"s":"CFO-BTO2","x":143,"y":428},{"s":"CFO-BTO2","x":145,"y":410},{"s":"CFO-BTO2","x":147,"y":360},{"s":"CFO-BTO2","x":148,"y":333},{"s":"CFO-BTO2","x":150,"y":365},{"s":"CFO-BTO2","x":152,"y":377},{"s":"CFO-BTO2","x":154,"y":360},{"s":"CFO-BTO2","x":157,"y":353},{"s":"CFO-BTO2","x":159,"y":372},{"s":"CFO-BTO2","x":162,"y":370},{"s":"CFO-BTO2","x":165,"y":352},{"s":"CFO-BTO2","x":167,"y":374},{"s":"CFO-BTO2","x":169,"y":347},{"s":"CFO-BTO2","x":172,"y":360},{"s":"CFO-BTO2","x":175,"y":373},{"s":"CFO-BTO2","x":178,"y":354},{"s":"CFO-BTO2","x":180,"y":350},{"s":"CFO-BTO2","x":182,"y":337},{"s":"CFO-BTO2","x":184,"y":355},{"s":"CFO-BTO2","x":186,"y":330},{"s":"CFO-BTO2","x":189,"y":313},{"s":"CFO-BTO2","x":191,"y":340},{"s":"CFO-BTO2","x":193,"y":363},{"s":"CFO-BTO2","x":195,"y":393},{"s":"CFO-BTO2","x":198,"y":417},{"s":"CFO-BTO2","x":200,"y":390},{"s":"CFO-BTO2","x":202,"y":380},{"s":"CFO-BTO2","x":205,"y":370},{"s":"CFO-BTO2","x":207,"y":350},{"s":"CFO-BTO2","x":210,"y":320},{"s":"CFO-BTO2","x":213,"y":305},{"s":"CFO-BTO2","x":217,"y":293},{"s":"CFO-BTO2","x":220,"y":282},{"s":"CFO-BTO2","x":222,"y":270},{"s":"CFO-BTO2","x":224,"y":290},{"s":"CFO-BTO2","x":226,"y":297},{"s":"CFO-BTO2","x":228,"y":275},{"s":"CFO-BTO2","x":230,"y":253},{"s":"CFO-BTO2","x":232,"y":278},{"s":"CFO-BTO2","x":235,"y":290},{"s":"CFO-BTO2","x":238,"y":302},{"s":"CFO-BTO2","x":240,"y":285},{"s":"CFO-BTO2","x":242,"y":307},{"s":"CFO-BTO2","x":245,"y":314},{"s":"CFO-BTO2","x":248,"y":320},{"s":"CFO-BTO2","x":251,"y":328},{"s":"CFO-BTO2","x":253,"y":318},{"s":"CFO-BTO2","x":255,"y":337},{"s":"CFO-BTO2","x":258,"y":330},{"s":"CFO-BTO2","x":260,"y":345},{"s":"CFO-BTO2","x":262,"y":343},{"s":"CFO-BTO2","x":264,"y":360},{"s":"CFO-BTO2","x":266,"y":380},{"s":"CFO-BTO2","x":268,"y":397},{"s":"CFO-BTO2","x":270,"y":388},{"s":"CFO-BTO2","x":273,"y":383},{"s":"CFO-BTO2","x":275,"y":394},{"s":"CFO-BTO2","x":277,"y":393},{"s":"CFO-BTO2","x":279,"y":380},{"s":"CFO-BTO2","x":281,"y":368},{"s":"CFO-BTO2","x":283,"y":360},{"s":"CFO-BTO2","x":285,"y":350},{"s":"CFO-BTO2","x":287,"y":330},{"s":"CFO-BTO2","x":289,"y":313},{"s":"CFO-BTO2","x":291,"y":345},{"s":"CFO-BTO2","x":293,"y":365},{"s":"CFO-BTO2","x":295,"y":380},{"s":"CFO-BTO2","x":297,"y":350},{"s":"CFO-BTO2","x":299,"y":330},{"s":"CFO-BTO2","x":301,"y":338},{"s":"CFO-BTO2","x":303,"y":333},{"s":"CFO-BTO2","x":305,"y":310},{"s":"CFO-BTO2","x":308,"y":277},{"s":"CFO-BTO2","x":311,"y":266},{"s":"CFO-BTO2","x":315,"y":257},{"s":"CFO-BTO2","x":318,"y":245},{"s":"CFO-BTO2","x":321,"y":233},{"s":"CFO-BTO2","x":324,"y":242},{"s":"CFO-BTO2","x":327,"y":215},{"s":"CFO-BTO2","x":329,"y":207},{"s":"CFO-BTO2","x":332,"y":230},{"s":"CFO-BTO2","x":336,"y":227},{"s":"CFO-BTO2","x":339,"y":205},{"s":"CFO-BTO2","x":342,"y":193},{"s":"CFO-BTO2","x":345,"y":212},{"s":"CFO-BTO2","x":348,"y":205},{"s":"CFO-BTO2","x":351,"y":217},{"s":"CFO-BTO2","x":354,"y":198},{"s":"CFO-BTO2","x":358,"y":187},{"s":"CFO-BTO2","x":361,"y":200},{"s":"CFO-BTO2","x":364,"y":180},{"s":"CFO-BTO2","x":367,"y":173},{"s":"CFO-BTO2","x":370,"y":190},{"s":"CFO-BTO2","x":373,"y":173},{"s":"CFO-BTO2","x":376,"y":150},{"s":"CFO-BTO2","x":379,"y":164},{"s":"CFO-BTO2","x":382,"y":140},{"s":"CFO-BTO2","x":385,"y":155},{"s":"CFO-BTO2","x":388,"y":113},{"s":"CFO-BTO2","x":391,"y":160},{"s":"CFO-BTO2","x":394,"y":165},{"s":"CFO-BTO2","x":397,"y":150},{"s":"CFO-BTO2","x":400,"y":144},{"s":"CFO-BTO2","x":403,"y":158},{"s":"CFO-BTO2","x":406,"y":170},{"s":"CFO-BTO2","x":409,"y":160},{"s":"CFO-BTO2","x":412,"y":150},{"s":"CFO-BTO2","x":415,"y":165},{"s":"CFO-BTO2","x":417,"y":143},{"s":"CFO-BTO2","x":420,"y":130},{"s":"CFO-BTO2","x":422,"y":117},{"s":"CFO-BTO2","x":424,"y":135},{"s":"CFO-BTO2","x":426,"y":113},{"s":"CFO-BTO2","x":428,"y":130},{"s":"CFO-BTO2","x":430,"y":150},{"s":"CFO-BTO2","x":432,"y":147},{"s":"CFO-BTO2","x":435,"y":155},{"s":"CFO-BTO2","x":437,"y":142},{"s":"CFO-BTO2","x":439,"y":160},{"s":"CFO-BTO2","x":441,"y":150},{"s":"CFO-BTO2","x":443,"y":140},{"s":"CFO-BTO2","x":446,"y":170},{"s":"CFO-BTO2","x":448,"y":180},{"s":"CFO-BTO2","x":450,"y":193},{"s":"CFO-BTO2","x":452,"y":175},{"s":"CFO-BTO2","x":455,"y":187},{"s":"CFO-BTO2","x":457,"y":215},{"s":"CFO-BTO2","x":459,"y":250},{"s":"CFO-BTO2","x":461,"y":235},{"s":"CFO-BTO2","x":463,"y":220},{"s":"CFO-BTO2","x":466,"y":238},{"s":"CFO-BTO2","x":468,"y":227},{"s":"CFO-BTO2","x":471,"y":240},{"s":"CFO-BTO2","x":474,"y":253},{"s":"CFO-BTO2","x":477,"y":225},{"s":"CFO-BTO2","x":479,"y":207},{"s":"CFO-BTO2","x":481,"y":222},{"s":"CFO-BTO2","x":483,"y":227},{"s":"CFO-BTO2","x":486,"y":215},{"s":"CFO-BTO2","x":488,"y":238},{"s":"CFO-BTO2","x":490,"y":233},{"s":"CFO-BTO2","x":493,"y":217},{"s":"CFO-BTO2","x":496,"y":203},{"s":"CFO-BTO2","x":498,"y":225},{"s":"CFO-BTO2","x":501,"y":230},{"s":"CFO-BTO2","x":503,"y":202},{"s":"CFO-BTO2","x":505,"y":183},{"s":"CFO-BTO2","x":508,"y":205},{"s":"CFO-BTO2","x":510,"y":212},{"s":"CFO-BTO2","x":512,"y":217},{"s":"CFO-BTO2","x":515,"y":198},{"s":"CFO-BTO2","x":517,"y":208},{"s":"CFO-BTO2","x":519,"y":207},{"s":"CFO-BTO2","x":521,"y":180},{"s":"CFO-BTO2","x":523,"y":163},{"s":"CFO-BTO2","x":526,"y":190},{"s":"CFO-BTO2","x":529,"y":210},{"s":"CFO-BTO2","x":532,"y":195},{"s":"CFO-BTO2","x":534,"y":175},{"s":"CFO-BTO2","x":536,"y":183},{"s":"CFO-BTO2","x":539,"y":205},{"s":"CFO-BTO2","x":541,"y":190},{"s":"CFO-BTO2","x":543,"y":197},{"s":"CFO-BTO2","x":546,"y":180},{"s":"CFO-BTO2","x":548,"y":203},{"s":"CFO-BTO2","x":550,"y":190},{"s":"CFO-BTO2","x":552,"y":177},{"s":"CFO-BTO2","x":555,"y":172},{"s":"CFO-BTO2","x":558,"y":173},{"s":"CFO-BTO2","x":561,"y":190},{"s":"CFO-BTO2","x":563,"y":175},{"s":"CFO-BTO2","x":565,"y":183},{"s":"CFO-BTO2","x":567,"y":165},{"s":"CFO-BTO2","x":569,"y":147},{"s":"CFO-BTO2","x":572,"y":160},{"s":"CFO-BTO2","x":574,"y":175},{"s":"CFO-BTO2","x":576,"y":160},{"s":"CFO-BTO2","x":579,"y":150},{"s":"CFO-BTO2","x":582,"y":147},{"s":"CFO-BTO2","x":585,"y":165},{"s":"CFO-BTO2","x":587,"y":158},{"s":"CFO-BTO2","x":589,"y":170},{"s":"CFO-BTO2","x":592,"y":178},{"s":"CFO-BTO2","x":595,"y":183},{"s":"CFO-BTO2","x":598,"y":170},{"s":"CFO-BTO2","x":600,"y":177},{"s":"CFO-BTO2","x":603,"y":182},{"s":"CFO-BTO2","x":606,"y":170},{"s":"CFO-BTO2","x":609,"y":185},{"s":"CFO-BTO2","x":611,"y":187},{"s":"CFO-BTO2","x":614,"y":172},{"s":"CFO-BTO2","x":616,"y":180},{"s":"CFO-BTO2","x":618,"y":180},{"s":"CFO-BTO2","x":621,"y":160},{"s":"CFO-BTO2","x":624,"y":140},{"s":"CFO-BTO2","x":627,"y":203},{"s":"CFO-BTO2","x":629,"y":185},{"s":"CFO-BTO2","x":632,"y":167},{"s":"CFO-BTO2","x":635,"y":180},{"s":"CFO-BTO2","x":638,"y":193},{"s":"CFO-BTO2","x":640,"y":190},{"s":"CFO-BTO2","x":643,"y":205},{"s":"CFO-BTO2","x":645,"y":210},{"s":"CFO-BTO2","x":647,"y":213},{"s":"CFO-BTO2","x":650,"y":225},{"s":"CFO-BTO2","x":652,"y":245},{"s":"CFO-BTO2","x":654,"y":253},{"s":"CFO-BTO2","x":656,"y":235},{"s":"CFO-BTO2","x":658,"y":220},{"s":"CFO-BTO2","x":660,"y":245},{"s":"CFO-BTO2","x":662,"y":250},{"s":"CFO-BTO2","x":664,"y":253},{"s":"CFO-BTO2","x":666,"y":262},{"s":"CFO-BTO2","x":668,"y":273},{"s":"CFO-BTO2","x":670,"y":260},{"s":"CFO-BTO2","x":672,"y":280},{"s":"CFO-BTO2","x":675,"y":287},{"s":"CFO-BTO2","x":677,"y":278},{"s":"CFO-BTO2","x":680,"y":273},{"s":"CFO-BTO2","x":682,"y":285},{"s":"CFO-BTO2","x":684,"y":287},{"s":"CFO-BTO2","x":686,"y":280},{"s":"CFO-BTO2","x":688,"y":293},{"s":"CFO-BTO2","x":690,"y":278},{"s":"CFO-BTO2","x":693,"y":247},{"s":"CFO-BTO2","x":695,"y":260},{"s":"CFO-BTO2","x":697,"y":233},{"s":"CFO-BTO2","x":699,"y":225},{"s":"CFO-BTO2","x":701,"y":207},{"s":"CFO-BTO2","x":703,"y":215},{"s":"CFO-BTO2","x":706,"y":180},{"s":"CFO-BTO2","x":708,"y":165},{"s":"CFO-BTO2","x":709,"y":140},{"s":"CFO-BTO2","x":711,"y":170},{"s":"CFO-BTO2","x":713,"y":193},{"s":"CFO-BTO2","x":715,"y":160},{"s":"CFO-BTO2","x":717,"y":145},{"s":"CFO-BTO2","x":719,"y":120},{"s":"CFO-BTO2","x":721,"y":150},{"s":"CFO-BTO2","x":724,"y":167},{"s":"CFO-BTO2","x":727,"y":150},{"s":"CFO-BTO2","x":730,"y":140},{"s":"CFO-BTO2","x":733,"y":128},{"s":"CFO-BTO2","x":737,"y":117},{"s":"CFO-BTO2","x":740,"y":135},{"s":"CFO-BTO2","x":743,"y":140},{"s":"CFO-BTO2","x":746,"y":120},{"s":"CFO-BTO2","x":750,"y":127},{"s":"CFO-BTO2","x":754,"y":110},{"s":"CFO-BTO2","x":757,"y":90},{"s":"CFO-BTO2","x":760,"y":115},{"s":"CFO-BTO2","x":763,"y":123},{"s":"CFO-BTO2","x":767,"y":108},{"s":"CFO-BTO2","x":770,"y":125},{"s":"CFO-BTO2","x":772,"y":110},{"s":"CFO-BTO2","x":776,"y":100},{"s":"CFO-BTO2","x":779,"y":115},{"s":"CFO-BTO2","x":781,"y":80},{"s":"CFO-BTO2","x":784,"y":110},{"s":"CFO-BTO2","x":787,"y":120},{"s":"CFO-BTO2","x":790,"y":123},{"s":"CFO-BTO2","x":793,"y":105},{"s":"CFO-BTO2","x":796,"y":112},{"s":"CFO-BTO2","x":799,"y":100},{"s":"CFO-BTO2","x":802,"y":110},{"s":"CFO-BTO2","x":805,"y":120},{"s":"CFO-BTO2","x":807,"y":117},{"s":"CFO-BTO2","x":810,"y":102},{"s":"CFO-BTO2","x":813,"y":110},{"s":"CFO-BTO2","x":817,"y":100},{"s":"CFO-BTO2","x":820,"y":115},{"s":"CFO-BTO2","x":823,"y":105},{"s":"CFO-BTO2","x":826,"y":110},{"s":"CFO-BTO2","x":828,"y":130},{"s":"CFO-BTO2","x":830,"y":140},{"s":"CFO-BTO2","x":833,"y":112},{"s":"CFO-BTO2","x":836,"y":93},{"s":"CFO-BTO2","x":839,"y":108},{"s":"CFO-BTO2","x":843,"y":110},{"s":"CFO-BTO2","x":846,"y":100},{"s":"CFO-BTO2","x":849,"y":112},{"s":"CFO-BTO2","x":852,"y":107},{"s":"CFO-BTO2","x":854,"y":90},{"s":"CFO-BTO2","x":856,"y":73},{"s":"CFO-BTO2","x":859,"y":100},{"s":"CFO-BTO2","x":863,"y":107},{"s":"CFO-BTO2","x":866,"y":95},{"s":"CFO-BTO2","x":869,"y":105},{"s":"CFO-BTO2","x":872,"y":100},{"s":"CFO-BTO2","x":875,"y":110},{"s":"CFO-BTO2","x":879,"y":87},{"s":"CFO-BTO2","x":882,"y":110},{"s":"CFO-BTO2","x":884,"y":127},{"s":"CFO-BTO2","x":886,"y":100},{"s":"CFO-BTO2","x":889,"y":83},{"s":"CFO-BTO2","x":892,"y":100},{"s":"CFO-BTO2","x":895,"y":98},{"s":"CFO-BTO2","x":897,"y":80},{"s":"CFO-BTO2","x":900,"y":90}
],
"lab": [{"t": "label"}]
},
"vconcat": [
{
 "width": 589, "height": 471,
 "layer": [
  {
   "data": {"name": "a"},
   "mark": {"type": "line", "strokeWidth": 1.2},
   "encoding": {
    "x": {"field": "x", "type": "quantitative", "scale": {"domain": [120, 900], "nice": false, "zero": false},
          "axis": {"title": null, "values": [150,200,250,300,350,400,450,500,550,600,650,700,750,800,850,900], "labelExpr": "''", "tickSize": {"condition": {"test": "datum.value % 100 === 0", "value": -9}, "value": -5}, "minExtent": 0, "maxExtent": 0}},
    "y": {"field": "y", "type": "quantitative", "scale": {"domain": [0, 471], "nice": false, "zero": false}, "axis": null},
    "color": {"field": "s", "type": "nominal", "scale": {"domain": ["CFO-BTO1", "BTO1", "CFO"], "range": ["#000000", "#3a3a3a", "#ff4a4a"]},
          "legend": {"legendX": 424, "legendY": 22, "labelOffset": 16.7}},
    "strokeDash": {"field": "s", "type": "nominal", "scale": {"domain": ["CFO-BTO1", "BTO1", "CFO"], "range": [[1, 0], [3, 2], [1.5, 1.5]]},
          "legend": {"legendX": 424, "legendY": 22, "labelOffset": 16.7}}
   }
  },
  {
   "data": {"name": "lab"},
   "mark": {"type": "text", "text": "(a)", "font": "Liberation Serif", "fontSize": 28, "align": "left", "baseline": "alphabetic", "color": "#111"},
   "encoding": {
    "x": {"datum": 145, "type": "quantitative", "axis": null},
    "y": {"datum": 426, "type": "quantitative", "axis": null}
   }
  }
 ]
},
{
 "width": 589, "height": 474,
 "resolve": {"axis": {"x": "independent"}},
 "layer": [
  {
   "data": {"name": "b"},
   "transform": [{"filter": "datum.s !== 'CFO-BTO2'"}],
   "mark": {"type": "line", "strokeWidth": 1.2},
   "encoding": {
    "x": {"field": "x", "type": "quantitative", "scale": {"domain": [120, 900], "nice": false, "zero": false},
          "axis": {"orient": "bottom", "title": "Raman Shift (cm⁻¹)", "titlePadding": 8, "values": [150,200,250,300,350,400,450,500,550,600,650,700,750,800,850,900], "labelExpr": "datum.value % 100 === 0 ? datum.label : ''", "labelPadding": 14, "tickSize": {"condition": {"test": "datum.value % 100 === 0", "value": -9}, "value": -5}}},
    "y": {"field": "y", "type": "quantitative", "scale": {"domain": [0, 474], "nice": false, "zero": false}, "axis": null},
    "color": {"field": "s", "type": "nominal", "scale": {"domain": ["CFO-BTO2", "BTO2", "CFO"], "range": ["#1f1fff", "#4a4aff", "#ff4a4a"]},
          "legend": {"legendX": 428, "legendY": 19, "labelOffset": 16.7}},
    "strokeDash": {"field": "s", "type": "nominal", "scale": {"domain": ["CFO-BTO2", "BTO2", "CFO"], "range": [[1, 0], [1.5, 1.5], [1.5, 1.5]]},
          "legend": {"legendX": 428, "legendY": 19, "labelOffset": 16.7}}
   }
  },
  {
   "data": {"name": "b"},
   "transform": [{"filter": "datum.s === 'CFO-BTO2'"}],
   "mark": {"type": "line", "strokeWidth": 1.3},
   "encoding": {
    "x": {"field": "x", "type": "quantitative", "scale": {"domain": [120, 900], "nice": false, "zero": false},
          "axis": {"orient": "top", "title": null, "values": [150,200,250,300,350,400,450,500,550,600,650,700,750,800,850,900], "labelExpr": "''", "tickSize": {"condition": {"test": "datum.value % 100 === 0", "value": -9}, "value": -5}, "minExtent": 0, "maxExtent": 0}},
    "y": {"field": "y", "type": "quantitative", "axis": null},
    "color": {"field": "s", "type": "nominal", "legend": {"legendX": 428, "legendY": 19, "labelOffset": 16.7}},
    "strokeDash": {"field": "s", "type": "nominal", "legend": {"legendX": 428, "legendY": 19, "labelOffset": 16.7}}
   }
  },
  {
   "data": {"name": "lab"},
   "mark": {"type": "text", "text": "(b)", "font": "Liberation Serif", "fontSize": 28, "align": "left", "baseline": "alphabetic", "color": "#111"},
   "encoding": {
    "x": {"datum": 146.5, "type": "quantitative", "axis": null},
    "y": {"datum": 432, "type": "quantitative", "axis": null}
   }
  }
 ]
}
]
}
